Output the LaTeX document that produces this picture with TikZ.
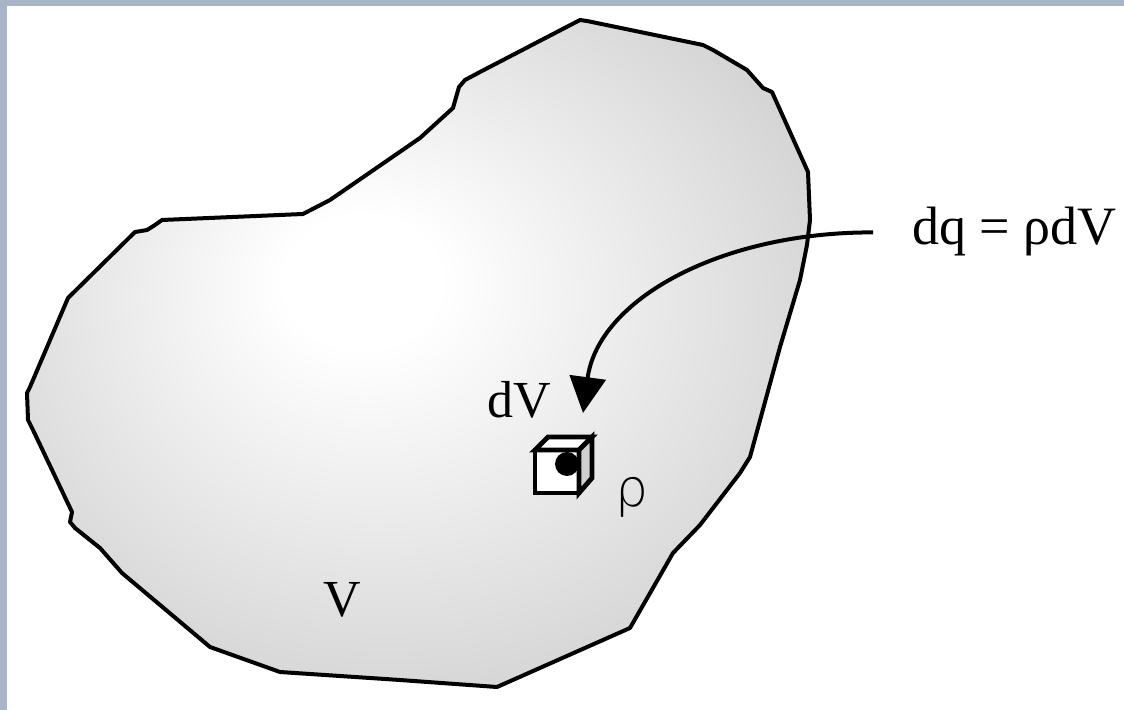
\documentclass[tikz,border=0pt]{standalone}
\usepackage{fontspec}
\setmainfont{Liberation Serif}
\newfontfamily\rhofont{DejaVu Sans ExtraLight}
\usetikzlibrary{arrows.meta}
\definecolor{frame}{RGB}{170,180,200}
\definecolor{side}{RGB}{208,208,208}
\pgfdeclareradialshading{blobshade}{\pgfpoint{-4bp}{6bp}}{%
  color(0bp)=(white); color(5bp)=(white); color(40bp)=(black!24);
  color(50bp)=(black!26)}

\begin{document}
\begin{tikzpicture}[>={Triangle[length=18pt,width=18pt]},x=0.5pt,y=-0.5pt,
  lbl/.style={font=\fontsize{26}{30}\selectfont,inner sep=0pt},
  edge/.style={line width=2pt,line join=round},
  box/.style={line width=2.4pt,line join=miter}]
\useasboundingbox (0,0) rectangle (1124,710);
\fill[white] (0,0) rectangle (1124,710);
\fill[frame] (0,0) rectangle (7,710);
\fill[frame] (0,0) rectangle (1124,6);
\shadedraw[shading=blobshade,edge] (580,20) -- (587,21) -- (703,45) -- (713,50)
  -- (747,70) -- (763,88) -- (772,92) -- (808,172) -- (810,220) -- (807,245)
  -- (800,280) -- (780,347) -- (750,457) -- (740,473) -- (700,525) -- (673,553)
  -- (630,628) -- (497,687) -- (400,680) -- (280,672) -- (210,647) -- (122,573)
  -- (100,548) -- (75,528) -- (70,522) -- (72,512) -- (33,430) -- (28,420)
  -- (27,393) -- (30,387) -- (68,298) -- (135,232) -- (147,230) -- (155,225)
  -- (162,220) -- (303,214) -- (330,200) -- (420,138) -- (453,108) -- (459,87)
  -- (465,80) -- (480,72) -- (555,33) -- cycle;
% small volume element
\filldraw[box,fill=white] (535,450) rectangle (579,493);
\filldraw[box,fill=white] (535,450) -- (548,437) -- (592,437) -- (579,450) -- cycle;
\fill (567,464) circle (12);
\filldraw[box,fill=side] (579,450) -- (592,437) -- (592,478) -- (579,493) -- cycle;
\node[lbl,anchor=base west] (dV) at (487,418) {dV};
\node[lbl,anchor=base] (V) at (342,617) {V};
\node[lbl,anchor=base west,font=\fontsize{27}{31}\selectfont] (dq) at (912,245) {dq = ρdV};
\node[lbl,anchor=base,font=\rhofont\fontsize{26}{30}\selectfont] (rho) at (632,507) {ρ};
\coordinate (tip) at (583,413);
\draw[edge,->] ([xshift=-19.5pt,yshift=4pt]dq.mid west) .. controls (720,232) and (598,300) .. (tip);
\end{tikzpicture}
\end{document}
